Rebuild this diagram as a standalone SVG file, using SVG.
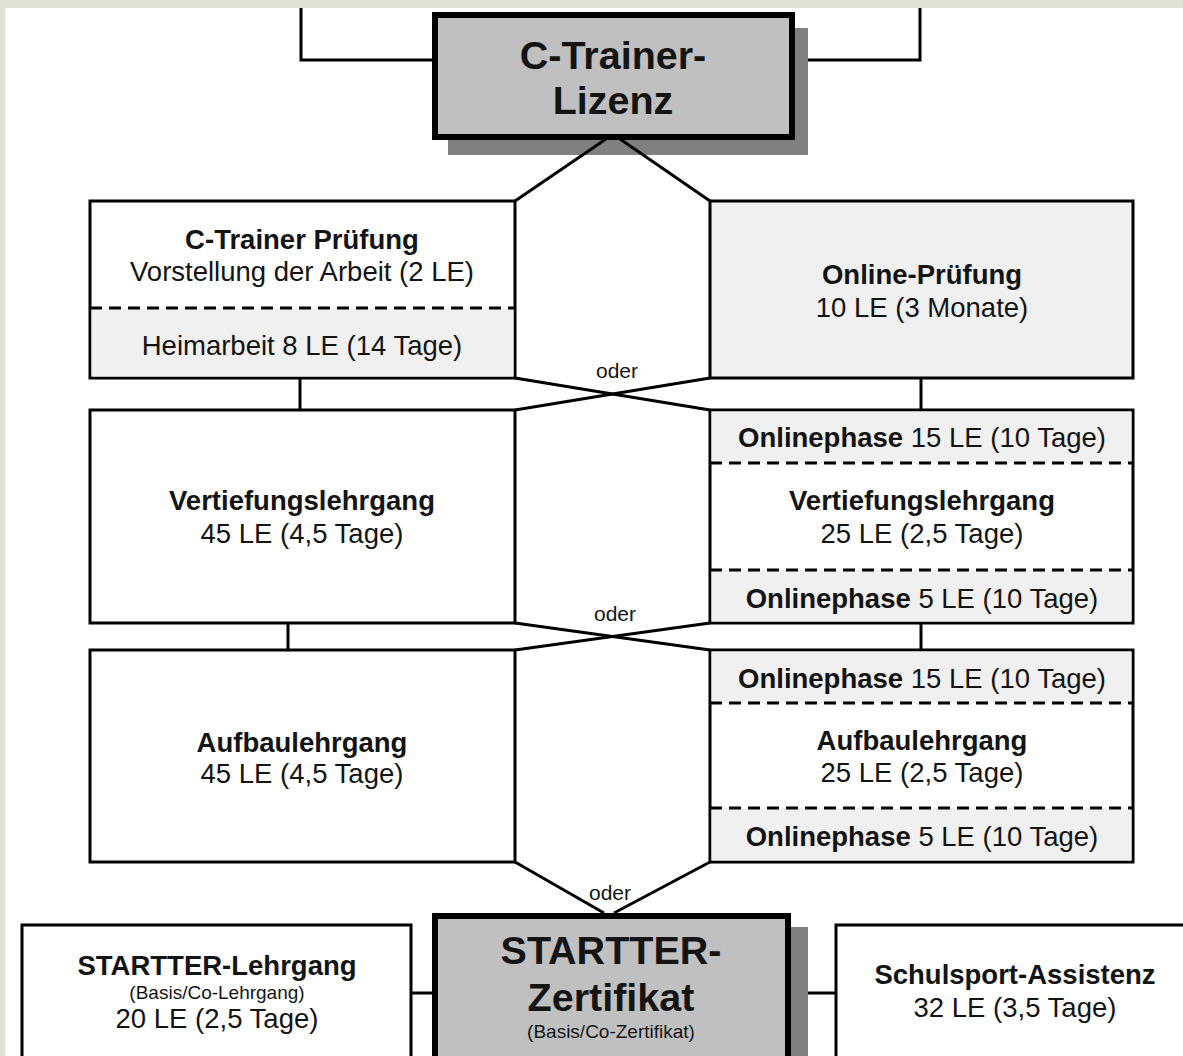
<svg xmlns="http://www.w3.org/2000/svg" width="1183" height="1056" viewBox="0 0 1183 1056">
<style>
.box{fill:#ffffff;stroke:#000;stroke-width:3}
.shade{fill:#f0f0f0;stroke:none}
.dash{stroke:#000;stroke-width:3;stroke-dasharray:12 7;fill:none}
.main{fill:#c0c0c0;stroke:#000;stroke-width:6}
.shadow{fill:#808080}
.ln{stroke:#000;stroke-width:3;fill:none}
text{font-family:"Liberation Sans",Arial,sans-serif;fill:#141414;text-anchor:middle}
.t{font-size:27.5px}
.b{font-size:27.5px;font-weight:bold}
.big{font-size:39.5px;font-weight:bold}
.sm{font-size:19px}
.oder{font-size:21px}
</style>
<rect x="0" y="0" width="1183" height="1056" fill="#ffffff"/>

<g id="c-trainer-lizenz">
  <rect class="shadow" x="448" y="28" width="360" height="127"/>
  <rect class="main" x="435" y="15" width="357" height="122"/>
  <text class="big" x="613" y="69">C-Trainer-</text>
  <text class="big" x="613" y="114">Lizenz</text>
</g>

<g id="c-trainer-pruefung">
  <rect class="box" x="90" y="201" width="425" height="177"/>
  <rect class="shade" x="91.5" y="308" width="422" height="68.5"/>
  <line class="dash" x1="90" y1="308" x2="515" y2="308"/>
  <text class="b" x="302" y="249">C-Trainer Prüfung</text>
  <text class="t" x="302" y="281">Vorstellung der Arbeit (2 LE)</text>
  <text class="t" x="302" y="355">Heimarbeit 8 LE (14 Tage)</text>
</g>

<g id="online-pruefung">
  <rect class="box" x="710" y="201" width="423" height="177" style="fill:#f0f0f0"/>
  <text class="b" x="922" y="284">Online-Prüfung</text>
  <text class="t" x="922" y="317">10 LE (3 Monate)</text>
</g>

<g id="vertiefung-left">
  <rect class="box" x="90" y="410" width="425" height="213"/>
  <text class="b" x="302" y="510">Vertiefungslehrgang</text>
  <text class="t" x="302" y="543">45 LE (4,5 Tage)</text>
</g>

<g id="vertiefung-right">
  <rect class="box" x="710" y="410" width="423" height="213"/>
  <rect class="shade" x="711.5" y="411.5" width="420" height="51.5"/>
  <rect class="shade" x="711.5" y="570" width="420" height="51.5"/>
  <line class="dash" x1="710" y1="463" x2="1133" y2="463"/>
  <line class="dash" x1="710" y1="570" x2="1133" y2="570"/>
  <text class="b" x="922" y="447">Onlinephase <tspan font-weight="normal">15 LE (10 Tage)</tspan></text>
  <text class="b" x="922" y="510">Vertiefungslehrgang</text>
  <text class="t" x="922" y="543">25 LE (2,5 Tage)</text>
  <text class="b" x="922" y="608">Onlinephase <tspan font-weight="normal">5 LE (10 Tage)</tspan></text>
</g>

<g id="aufbau-left">
  <rect class="box" x="90" y="650" width="425" height="212"/>
  <text class="b" x="302" y="752">Aufbaulehrgang</text>
  <text class="t" x="302" y="783">45 LE (4,5 Tage)</text>
</g>

<g id="aufbau-right">
  <rect class="box" x="710" y="650" width="423" height="212"/>
  <rect class="shade" x="711.5" y="651.5" width="420" height="51.5"/>
  <rect class="shade" x="711.5" y="808" width="420" height="52.5"/>
  <line class="dash" x1="710" y1="703" x2="1133" y2="703"/>
  <line class="dash" x1="710" y1="808" x2="1133" y2="808"/>
  <text class="b" x="922" y="688">Onlinephase <tspan font-weight="normal">15 LE (10 Tage)</tspan></text>
  <text class="b" x="922" y="750">Aufbaulehrgang</text>
  <text class="t" x="922" y="782">25 LE (2,5 Tage)</text>
  <text class="b" x="922" y="846">Onlinephase <tspan font-weight="normal">5 LE (10 Tage)</tspan></text>
</g>

<g id="startter-zertifikat">
  <rect class="shadow" x="448" y="927" width="360" height="140"/>
  <rect class="main" x="435" y="916" width="353" height="160"/>
  <text class="big" x="611" y="964">STARTTER-</text>
  <text class="big" x="611" y="1011">Zertifikat</text>
  <text class="sm" x="611" y="1038">(Basis/Co-Zertifikat)</text>
</g>

<g id="startter-lehrgang">
  <rect class="box" x="22" y="925" width="389" height="150"/>
  <text class="b" x="217" y="975">STARTTER-Lehrgang</text>
  <text class="sm" x="217" y="999">(Basis/Co-Lehrgang)</text>
  <text class="t" x="217" y="1028">20 LE (2,5 Tage)</text>
</g>

<g id="schulsport-assistenz">
  <rect class="box" x="836" y="925" width="360" height="150"/>
  <text class="b" x="1015" y="984">Schulsport-Assistenz</text>
  <text class="t" x="1015" y="1017">32 LE (3,5 Tage)</text>
</g>

<g id="connectors">
  <polyline class="ln" points="301,8 301,60 432,60"/>
  <polyline class="ln" points="808,60 920,60 920,8"/>
  <line class="ln" x1="606" y1="139" x2="515" y2="201"/>
  <line class="ln" x1="620" y1="139" x2="710" y2="201"/>
  <line class="ln" x1="300" y1="378" x2="300" y2="410"/>
  <line class="ln" x1="921" y1="378" x2="921" y2="410"/>
  <line class="ln" x1="515" y1="378" x2="710" y2="410"/>
  <line class="ln" x1="710" y1="378" x2="515" y2="410"/>
  <line class="ln" x1="288" y1="623" x2="288" y2="650"/>
  <line class="ln" x1="921" y1="623" x2="921" y2="650"/>
  <line class="ln" x1="515" y1="623" x2="710" y2="650"/>
  <line class="ln" x1="710" y1="623" x2="515" y2="650"/>
  <line class="ln" x1="515" y1="862" x2="604" y2="913"/>
  <line class="ln" x1="710" y1="862" x2="614" y2="913"/>
  <line class="ln" x1="410" y1="993" x2="432" y2="993"/>
  <line class="ln" x1="808" y1="993" x2="836" y2="993"/>
  <text class="oder" x="617" y="378">oder</text>
  <text class="oder" x="615" y="621">oder</text>
  <text class="oder" x="610" y="900">oder</text>
</g>

<rect x="0" y="0" width="1183" height="8" fill="#e1e1d6"/>
<rect x="0" y="0" width="5" height="1056" fill="#e1e1d6"/>
</svg>
